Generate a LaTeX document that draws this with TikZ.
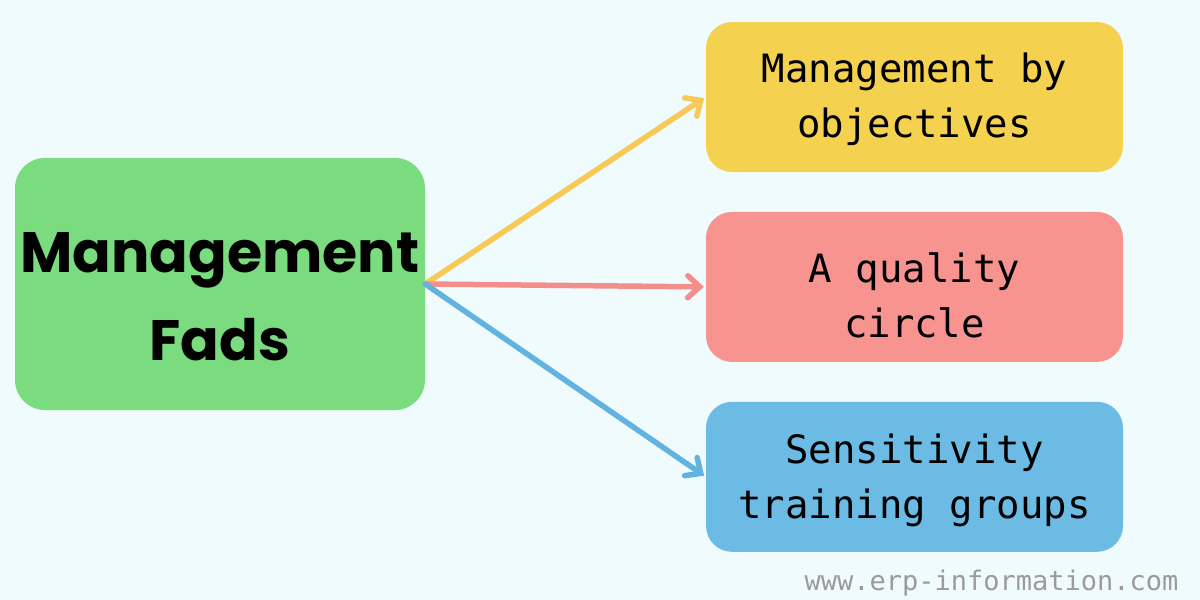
\documentclass[tikz,border=0pt]{standalone}
\usepackage{fontspec}
\setmonofont{DejaVu Sans Mono}
\newfontfamily\fadsfont{Poppins}
\usepackage{tikz}
\usetikzlibrary{
  arrows.meta,
  positioning
}
\definecolor{bgcyan}{RGB}{240,251,254}
\definecolor{fadgreen}{RGB}{122,220,126}
\definecolor{mboyellow}{RGB}{244,210,80}
\definecolor{qcred}{RGB}{247,148,144}
\definecolor{stgblue}{RGB}{107,187,228}
\definecolor{arryellow}{RGB}{247,201,87}
\definecolor{arrred}{RGB}{244,142,139}
\definecolor{arrblue}{RGB}{99,179,224}
\definecolor{markgrey}{RGB}{155,155,155}
\tikzset{
  fadbox/.style={rounded corners=30pt, fill=fadgreen,
    minimum width=410pt, minimum height=252pt, inner sep=0pt,
    text height=152pt, text depth=0pt,
    align=center, font=\fadsfont\bfseries\fontsize{57}{88}\selectfont},
  itembox/.style={rounded corners=26pt,
    minimum width=417pt, minimum height=150pt, inner sep=0pt,
    text depth=0pt,
    align=center, font=\ttfamily\fontsize{39}{55}\selectfont},
  arr/.style={-{Straight Barb[length=12pt, width=22pt, line cap=round]},
    line width=5.5pt, line cap=round, shorten >=2pt},
}

\begin{document}
\begin{tikzpicture}[x=1pt, y=-1pt, node distance=39.5pt]
  % background and bounding box
  \fill[bgcyan] (0,0) rectangle (1200,600);

  \node[fadbox] (fads) at (220,284) {Management\\Fads};

  \node[itembox, fill=mboyellow, text height=80pt] (mbo) at (914.5,97)
    {Management by\\objectives};
  \node[itembox, fill=qcred, text height=102pt, below=of mbo] (qc)
    {A quality\\circle};
  \node[itembox, fill=stgblue, text height=84pt, below=of qc] (stg)
    {Sensitivity\\training groups};

  % connectors
  \draw[arr, arryellow] (fads.east) -- (mbo.west);
  \draw[arr, arrred] (fads.east) -- (qc.west);
  \draw[arr, arrblue] (fads.east) -- (stg.west);

  % watermark
  \node[font=\ttfamily\fontsize{27}{30}\selectfont, text=markgrey,
    anchor=base east] (mark) at (1182,590) {www.erp-information.com};
\end{tikzpicture}
\end{document}
